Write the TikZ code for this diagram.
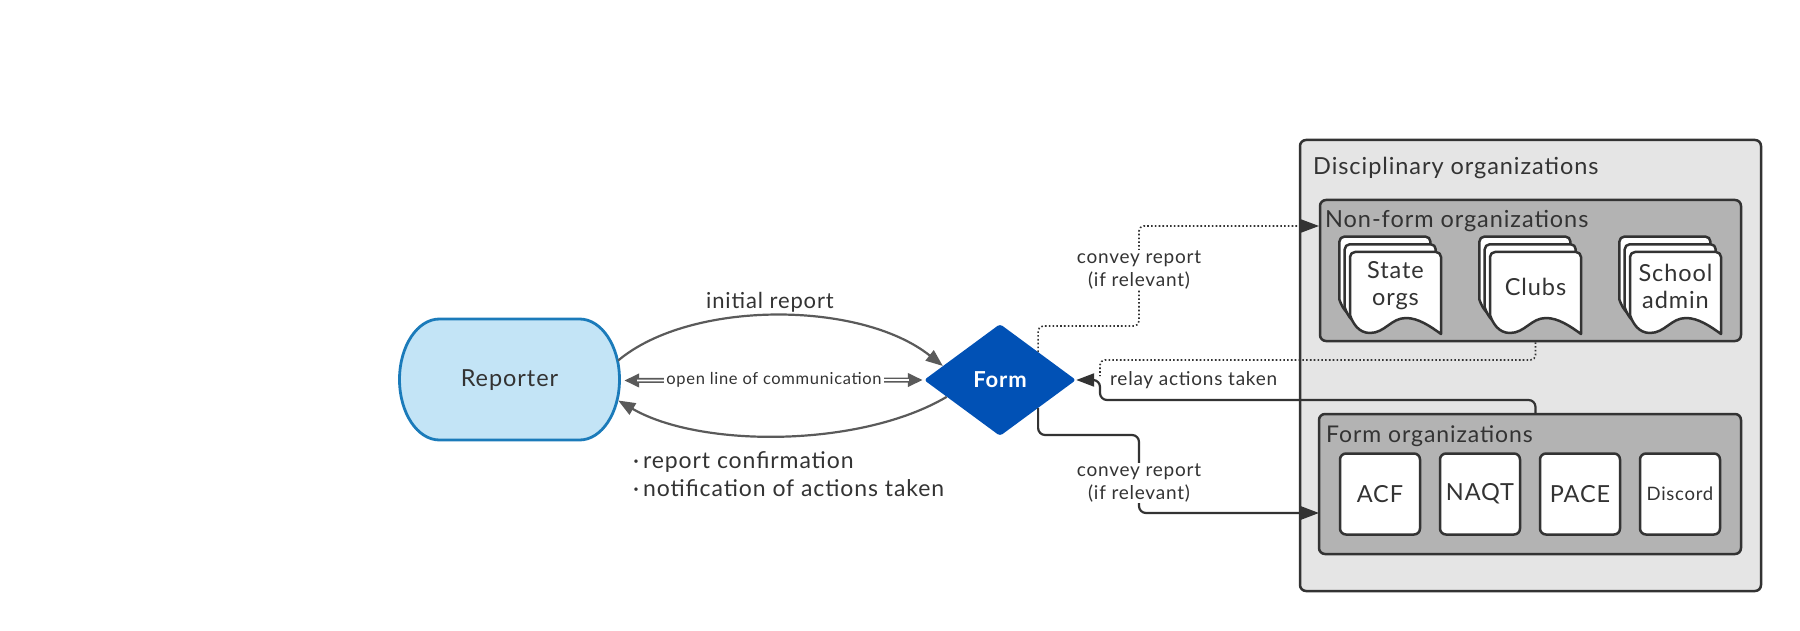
\documentclass[tikz,border=0pt]{standalone}
\usepackage{fontspec}
\setmainfont{Lato}[LetterSpace=4]
\usetikzlibrary{shapes.geometric,arrows.meta,calc}
\definecolor{txt}{HTML}{333333}
\definecolor{bord}{HTML}{333333}
\definecolor{garrow}{HTML}{5A5A5A}
\definecolor{repfill}{HTML}{C3E4F6}
\definecolor{repbord}{HTML}{1B7BBA}
\definecolor{formblue}{HTML}{0151B5}
\definecolor{outerfill}{HTML}{E5E5E5}
\definecolor{innerfill}{HTML}{B3B3B3}
\newcommand{\fsz}[1]{\fontsize{#1}{1.2\dimexpr#1pt\relax}\selectfont}
\newcommand{\orgdoc}[2]{%
  \foreach \d in {2,1,0}{%
    \begin{scope}[shift={(-5.3*\d,-7.7*\d)}]
      \draw[docst] (#1,#2+63) [rounded corners=5pt] -- (#1,#2) -- (#1+91,#2) -- (#1+91,#2+40) [sharp corners] -- (#1+91,#2+82)
        .. controls (#1+80,#2+74) and (#1+68,#2+66) .. (#1+56,#2+66)
        .. controls (#1+41,#2+66) and (#1+35,#2+81) .. (#1+20,#2+81)
        .. controls (#1+9,#2+81) and (#1+3,#2+72) .. (#1,#2+63) -- cycle;
    \end{scope}}}
\tikzset{
  docst/.style={draw=bord, fill=white, line width=2.5pt, line join=round},
  grp/.style={draw=bord, line width=2.5pt, rounded corners=6pt, inner sep=0pt},
  grplabel/.style={anchor=base west, inner sep=0pt, text=txt, font=\fsz{23.5}},
  wbox/.style={draw=bord, fill=white, line width=2.5pt, rounded corners=6pt, minimum width=80pt, minimum height=81pt, inner sep=0pt, text=txt, font=\fsz{23.5}},
  doctext/.style={align=center, text=txt, font=\fontsize{23.5}{27}\selectfont, inner sep=0pt},
  garr/.style={draw=garrow, line width=2.2pt, -{Triangle[length=17pt,width=13pt]}},
  darr/.style={draw=bord, line width=2.2pt, rounded corners=7pt, -{Triangle[length=18pt,width=13pt]}},
  dotln/.style={draw=bord, line width=1.6pt, dash pattern=on 1.6pt off 2.2pt, rounded corners=5pt},
  clabel/.style={fill=white, align=center, text=txt, font=\fontsize{19}{23}\selectfont, inner sep=1pt},
}
\begin{document}
\begin{tikzpicture}[x=1pt,y=-1pt]
\useasboundingbox (0,0) rectangle (1800,631);

% Reporter
\draw[fill=repfill, draw=repbord, line width=2.8pt]
  (439.5,319) -- (579.5,319) .. controls (601.6,319) and (619.5,346.1) .. (619.5,379.5)
  .. controls (619.5,412.9) and (601.6,440) .. (579.5,440) -- (439.5,440)
  .. controls (417.4,440) and (399.5,412.9) .. (399.5,379.5)
  .. controls (399.5,346.1) and (417.4,319) .. (439.5,319) -- cycle;
\node[minimum width=221pt, minimum height=121pt, inner sep=0pt, text=txt, font=\fsz{23.5}] (rep) at (509.5,380.5) {Reporter};

% Form diamond
\node[diamond, fill=formblue, minimum width=152pt, minimum height=112pt, inner sep=0pt, rounded corners=3pt, text=white, font=\bfseries\fsz{22}] (Form) at (1000,380) {Form};

% Disciplinary organizations
\node[grp, fill=outerfill, minimum width=461pt, minimum height=451pt] (disc) at (1530.5,365.5) {};
\node[grplabel] (disclabel) at (1313,175) {Disciplinary organizations};

\node[grp, fill=innerfill, minimum width=421pt, minimum height=141pt] (nonform) at (1530.5,270.5) {};
\node[grplabel] (nonformlabel) at (1325,228) {Non-form organizations};

\node[grp, fill=innerfill, minimum width=422pt, minimum height=140pt] (formorgs) at (1530,484) {};
\node[grplabel, font=\fsz{23}] (formorgslabel) at (1326,442) {Form organizations};

% documents
\orgdoc{1350}{252}
\orgdoc{1490}{252}
\orgdoc{1630}{252}
\node[doctext] (stateorgs) at (1395.5,286) {State\\orgs};
\node[doctext] (clubs) at (1535.5,287) {Clubs};
\node[doctext] (school) at (1675.5,286) {School\\admin};

% form orgs boxes
\node[wbox] (acf) at (1380,494) {ACF};
\node[wbox] (naqt) at (1480,494) {NAQT};
\node[wbox] (pace) at (1580,494) {PACE};
\node[wbox, font=\fsz{18.5}] (discord) at (1680,494) {Discord};

% left connectors
\draw[garr] ($(rep.east)+(-2,-20)$) .. controls (690,300) and (860,300) .. ($(Form.west)!0.25!(Form.north)$);
\draw[garr] ($(Form.west)!0.3!(Form.south)$) .. controls (860,448) and (700,448) .. ($(rep.east)+(-2,20)$);
\draw[draw=garrow, line width=5pt, {Triangle[length=15pt,width=13pt]}-{Triangle[length=15pt,width=13pt]}] ($(rep.east)+(4,0)$) -- ($(Form.west)+(-1,0)$);
\draw[white, line width=1.6pt] ($(rep.east)+(17,0)$) -- ($(Form.west)+(-15,0)$);
\node[fill=white, inner sep=2pt, text=txt, font=\fsz{16.5}] (openline) at ($(rep.east)!0.5!(Form.west)+(2,0)$) {open line of communication};

\node[text=txt, font=\fsz{22}, inner sep=0pt] (initial) at (770,302) {initial report};
\node[anchor=west, align=left, text=txt, font=\fontsize{23}{28}\selectfont, inner sep=0pt] (bullets) at (633,474) {·\,report confirmation\\·\,notification of actions taken};

% right connectors
\coordinate (nfin) at (1319,226);
\coordinate (ffin) at (1319,513);
\coordinate (rj) at (1100,380);

\draw[dotln, -{Triangle[length=18pt,width=13pt]}] (Form.north east) |- (1139,326) |- (nfin);
\node[clabel] (convey1) at (1139,270) {convey report\\(if relevant)};

\draw[darr] (Form.south east) |- (1139,435) |- (ffin);
\node[clabel] (convey2) at (1139,483) {convey report\\(if relevant)};

\draw[dotln] (nonform.south -| clubs) |- ($(rj)+(0,-20)$) -- ($(rj)+(0,-4)$);
\draw[darr] (formorgs.north -| clubs) |- ($(rj)+(0,20)$) -- (rj) -- (Form.east);
\node[anchor=west, text=txt, font=\fsz{19}, inner sep=0pt] (relay) at (1110,380) {relay actions taken};

\end{tikzpicture}
\end{document}
